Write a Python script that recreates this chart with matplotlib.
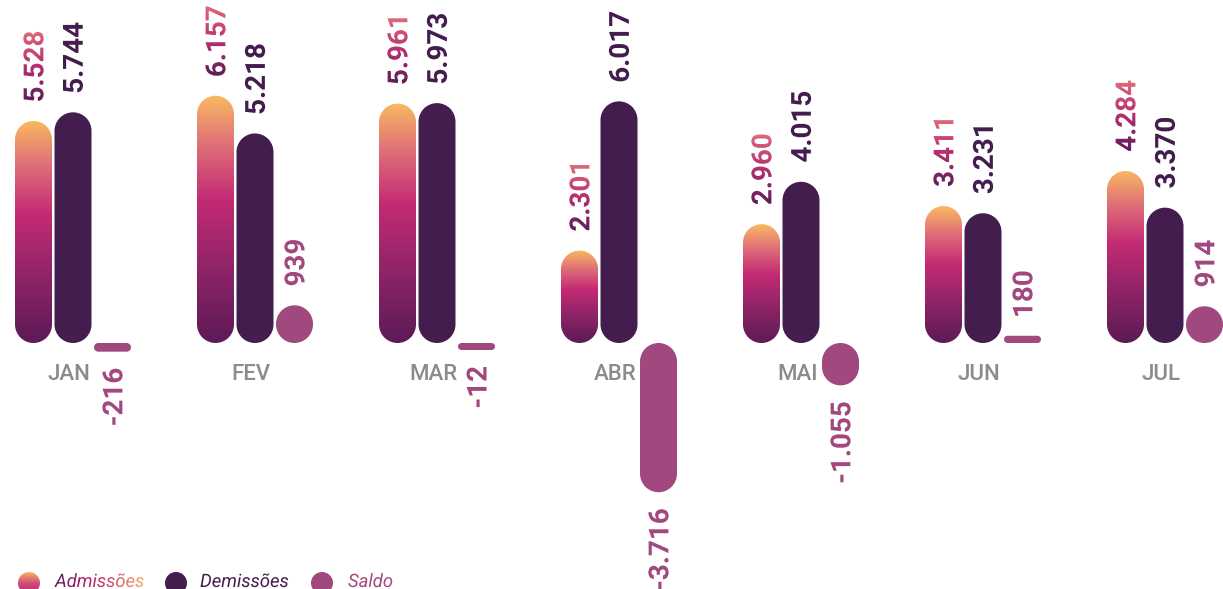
import numpy as np
import matplotlib
matplotlib.use("Agg")
import matplotlib.pyplot as plt
from matplotlib.colors import LinearSegmentedColormap
from matplotlib.font_manager import FontProperties
from matplotlib.patches import PathPatch, Circle
from matplotlib.path import Path
from matplotlib.textpath import TextPath
from matplotlib.transforms import Affine2D, ScaledTranslation

# data
months = ["JAN", "FEV", "MAR", "ABR", "MAI", "JUN", "JUL"]
admissoes = [5528, 6157, 5961, 2301, 2960, 3411, 4284]
demissoes = [5744, 5218, 5973, 6017, 4015, 3231, 3370]
saldo = [-216, 939, -12, -3716, -1055, 180, 914]
legend_labels = ["Admissões", "Demissões", "Saldo"]

# colours
DEM = "#441d4f"
SALDO = "#a1487f"
GREY = "#8b8b8b"
adm_cmap = LinearSegmentedColormap.from_list("adm", [
    (0.0, "#5c1a56"), (0.3, "#8f2467"), (0.58, "#c42b74"),
    (0.8, "#df6f78"), (1.0, "#f9b961")])
adm_text_cmap = LinearSegmentedColormap.from_list(
    "admtxt", ["#5e1c5a", "#b52f70", "#df6a79"])
leg_text_cmap = LinearSegmentedColormap.from_list(
    "legtxt", ["#5e1c5a", "#c42b74", "#f6ac69"])
leg_dot_cmap = LinearSegmentedColormap.from_list(
    "legdot", ["#b8286f", "#d24d76", "#f7b564"])

# geometry (pixels of the reference)
DPI = 100
W_PX, H_PX = 1223, 589
GROUP_PX = 182
FIRST_PX = 73
BASE_PX = 343
Y_PER_PX = 24.9
BAR_W_PX = 37
BAR_W = BAR_W_PX / GROUP_PX
PITCH = 39.5 / GROUP_PX
MIN_H = 7 * Y_PER_PX

bold = FontProperties(family="Roboto", weight="bold")
regular = FontProperties(family="Roboto", weight="medium")
italic = FontProperties(family="Roboto", style="italic")

ramp = np.linspace(0, 1, 256)


def rounded_rect(x0, y0, w, h):
    """Rectangle with circular corners (radius in screen pixels)."""
    r_px = min(BAR_W_PX / 2, h / Y_PER_PX / 2)
    rx, ry = r_px / GROUP_PX, r_px * Y_PER_PX
    x1, y1 = x0 + w, y0 + h
    corners = [((x1 - rx, y0 + ry), 270, 360), ((x1 - rx, y1 - ry), 0, 90),
               ((x0 + rx, y1 - ry), 90, 180), ((x0 + rx, y0 + ry), 180, 270)]
    verts, codes = [], []
    for (cx, cy), a0, a1 in corners:
        arc = Path.arc(a0, a1)
        v = arc.vertices * [rx, ry] + [cx, cy]
        c = arc.codes.copy()
        c[0] = Path.MOVETO if not codes else Path.LINETO
        verts.extend(v)
        codes.extend(c)
    verts.append(verts[0])
    codes.append(Path.CLOSEPOLY)
    return Path(verts, codes)


def pill(ax, xc, v, color=None, cmap=None):
    h = max(abs(v), MIN_H)
    y0 = 0 if v >= 0 else -h
    x0 = xc - BAR_W / 2
    patch = PathPatch(rounded_rect(x0, y0, BAR_W, h),
                      fc=color if color else "none", ec="none")
    ax.add_patch(patch)
    if cmap is not None:
        im = ax.imshow(ramp[:, None], extent=(x0, x0 + BAR_W, y0, y0 + h),
                       origin="lower", cmap=cmap, aspect="auto",
                       interpolation="bilinear")
        im.set_clip_path(patch)
    return y0, y0 + h


def path_label(ax, s, x, y, prop, size, off=(0, 0), rot=90, anchor="start",
               color=None, cmap=None):
    tp = TextPath((0, 0), s, size=size, prop=prop)
    bb = tp.get_extents()
    ymid = (bb.y0 + bb.y1) / 2
    if anchor == "start":
        ax0, ay0 = bb.x0, ymid
    elif anchor == "end":
        ax0, ay0 = bb.x1, ymid
    else:
        ax0, ay0 = 0, 0
    T = (Affine2D().translate(-ax0, -ay0).scale(DPI / 72).rotate_deg(rot)
         .translate(*off) + ScaledTranslation(x, y, ax.transData))
    if cmap is None:
        ax.add_patch(PathPatch(tp, transform=T, fc=color, ec="none"))
    else:
        patch = PathPatch(tp, transform=T, fc="none", ec="none")
        ax.add_patch(patch)
        im = ax.imshow(ramp[None, :], extent=(bb.x0, bb.x1, bb.y0, bb.y1),
                       transform=T, cmap=cmap, aspect="auto",
                       interpolation="bilinear")
        im.set_clip_path(patch)


def fmt(v):
    return f"{v:,}".replace(",", ".")


fig = plt.figure(figsize=(W_PX / DPI, H_PX / DPI), dpi=DPI)
ax = fig.add_axes([0, 0, 1, 1])
ax.set_axis_off()

for i, m in enumerate(months):
    series = [(admissoes[i], None, adm_cmap, None, adm_text_cmap),
              (demissoes[i], DEM, None, DEM, None),
              (saldo[i], SALDO, None, SALDO, None)]
    for k, (v, col, cmap, tcol, tcmap) in enumerate(series):
        xc = i + (k - 1) * PITCH
        bot, top = pill(ax, xc, v, color=col, cmap=cmap)
        if v >= 0:
            path_label(ax, fmt(v), xc, top, bold, 20, off=(0, 20),
                       anchor="start", color=tcol, cmap=tcmap)
        else:
            path_label(ax, fmt(v), xc, bot, bold, 20, off=(0, -17),
                       anchor="end", color=tcol, cmap=tcmap)
    ax.annotate(m, (i - 0.02, 0), xytext=(0, -37 * 72 / DPI),
                textcoords="offset points", ha="center", va="baseline",
                fontproperties=regular, fontsize=16, color=GREY)

ax.set_xlim(-FIRST_PX / GROUP_PX, (W_PX - FIRST_PX) / GROUP_PX)
ax.set_ylim(-(H_PX - BASE_PX) * Y_PER_PX, BASE_PX * Y_PER_PX)
ax.set_aspect("auto")

# legend strip
lax = fig.add_axes([0, 0, 1, 40 / H_PX])
lax.set_axis_off()
dots_x = [29, 176, 322]
texts_x = [55, 200, 348]
dot = Circle((dots_x[0], 6), 11, fc="none", ec="none")
lax.add_patch(dot)
im = lax.imshow(ramp[:, None], extent=(18, 40, -5, 17), origin="lower",
                cmap=leg_dot_cmap, aspect="auto", interpolation="bilinear")
im.set_clip_path(dot)
lax.add_patch(Circle((dots_x[1], 6), 11, fc=DEM, ec="none"))
lax.add_patch(Circle((dots_x[2], 6), 11, fc=SALDO, ec="none"))
path_label(lax, legend_labels[0], texts_x[0], 2, italic, 13.3, rot=0,
           anchor="base", cmap=leg_text_cmap)
path_label(lax, legend_labels[1], texts_x[1], 2, italic, 13.3, rot=0,
           anchor="base", color=DEM)
path_label(lax, legend_labels[2], texts_x[2], 2, italic, 13.3, rot=0,
           anchor="base", color=SALDO)
lax.set_xlim(0, W_PX)
lax.set_ylim(0, 40)
lax.set_aspect("auto")

fig.savefig("out.png", dpi=DPI)
